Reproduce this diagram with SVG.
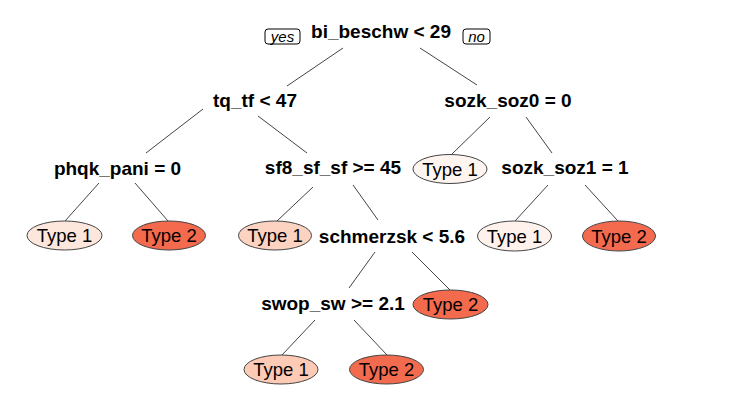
<svg xmlns="http://www.w3.org/2000/svg" width="734" height="405" viewBox="0 0 734 405">
<style>
.split{font-family:"Liberation Sans",Arial,sans-serif;font-weight:bold;font-size:19px;fill:#000;text-anchor:middle}
.leaf{font-family:"Liberation Sans",Arial,sans-serif;font-size:18.5px;fill:#000;text-anchor:middle}
.lbl{font-family:"Liberation Sans",Arial,sans-serif;font-style:italic;font-size:15px;fill:#000;text-anchor:middle}
.box{fill:#fff;stroke:#000;stroke-width:1}
.ell{stroke:#444;stroke-width:1}
.edge{stroke:#444;stroke-width:1;fill:none}
</style>
<rect width="734" height="405" fill="#fff"/>
<g id="connectors">
<line class="edge" x1="343" y1="48" x2="287" y2="86"/>
<line class="edge" x1="420" y1="48" x2="477" y2="85"/>
<line class="edge" x1="203" y1="109" x2="146" y2="153"/>
<line class="edge" x1="258" y1="116" x2="307" y2="153"/>
<line class="edge" x1="313" y1="187" x2="277" y2="221"/>
<line class="edge" x1="353" y1="185" x2="378" y2="220"/>
<line class="edge" x1="99" y1="183" x2="65" y2="221"/>
<line class="edge" x1="135" y1="183" x2="168" y2="221"/>
<line class="edge" x1="490" y1="117" x2="452" y2="154"/>
<line class="edge" x1="526" y1="117" x2="552" y2="153"/>
<line class="edge" x1="548" y1="185" x2="515" y2="221"/>
<line class="edge" x1="585" y1="185" x2="618" y2="221"/>
<line class="edge" x1="375" y1="252" x2="349" y2="288"/>
<line class="edge" x1="412" y1="252" x2="450" y2="290"/>
<line class="edge" x1="315" y1="320" x2="282" y2="355"/>
<line class="edge" x1="354" y1="320" x2="387" y2="355"/>
</g>
<g id="root">
<text class="split" x="381" y="38">bi_beschw &lt; 29</text>
<rect class="box" x="265" y="29" width="35" height="15" rx="3"/>
<text class="lbl" x="282.5" y="41.5">yes</text>
<rect class="box" x="463" y="29" width="27" height="15" rx="3"/>
<text class="lbl" x="476.5" y="41.5">no</text>
</g>
<g id="n_tq_tf"><text class="split" x="255" y="107">tq_tf &lt; 47</text></g>
<g id="n_sozk_soz0"><text class="split" x="508" y="107">sozk_soz0 = 0</text></g>
<g id="n_phqk_pani"><text class="split" x="117.5" y="175">phqk_pani = 0</text></g>
<g id="n_sf8_sf_sf"><text class="split" x="333" y="174">sf8_sf_sf &gt;= 45</text></g>
<g id="n_sozk_soz1"><text class="split" x="565" y="174">sozk_soz1 = 1</text></g>
<g id="n_schmerzsk"><text class="split" x="392" y="243">schmerzsk &lt; 5.6</text></g>
<g id="n_swop_sw"><text class="split" x="333" y="310">swop_sw &gt;= 2.1</text></g>
<g id="leaf_sozk0_t1"><ellipse class="ell" cx="450" cy="169" rx="37" ry="14.5" fill="#fff5f0"/><text class="leaf" x="450" y="175.5">Type 1</text></g>
<g id="leaf_phqk_t1"><ellipse class="ell" cx="64.5" cy="235.5" rx="37.5" ry="14.5" fill="#fde7dc"/><text class="leaf" x="64.5" y="242">Type 1</text></g>
<g id="leaf_phqk_t2"><ellipse class="ell" cx="169" cy="235.5" rx="36.5" ry="14.5" fill="#f36a4d"/><text class="leaf" x="169" y="242">Type 2</text></g>
<g id="leaf_sf8_t1"><ellipse class="ell" cx="275" cy="235.5" rx="36.5" ry="14.5" fill="#fcd3c1"/><text class="leaf" x="275" y="242">Type 1</text></g>
<g id="leaf_sozk1_t1"><ellipse class="ell" cx="514.5" cy="236" rx="37" ry="15" fill="#fff2ec"/><text class="leaf" x="514.5" y="242.5">Type 1</text></g>
<g id="leaf_sozk1_t2"><ellipse class="ell" cx="619" cy="236" rx="36.5" ry="15" fill="#f46a4e"/><text class="leaf" x="619" y="242.5">Type 2</text></g>
<g id="leaf_schm_t2"><ellipse class="ell" cx="450.5" cy="304.5" rx="37.5" ry="14.5" fill="#f36a4d"/><text class="leaf" x="450.5" y="311">Type 2</text></g>
<g id="leaf_swop_t1"><ellipse class="ell" cx="281" cy="369.5" rx="37" ry="14.5" fill="#fccab5"/><text class="leaf" x="281" y="376">Type 1</text></g>
<g id="leaf_swop_t2"><ellipse class="ell" cx="386.5" cy="369.5" rx="37" ry="14.5" fill="#f36b4e"/><text class="leaf" x="386.5" y="376">Type 2</text></g>
</svg>
